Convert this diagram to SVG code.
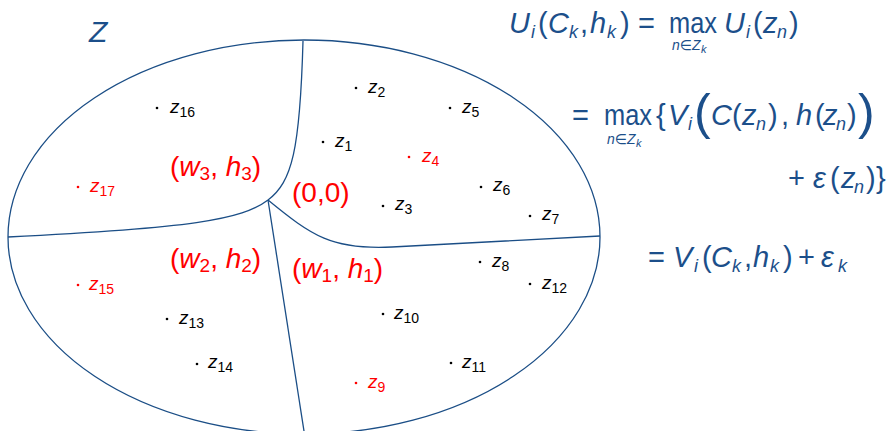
<svg xmlns="http://www.w3.org/2000/svg" width="893" height="431" viewBox="0 0 893 431">
<style>
.ln{fill:none;stroke:#1b4e86;stroke-width:1.3}
.m{font-family:"Liberation Sans","DejaVu Sans",sans-serif;fill:#1c4f8a;font-size:29px}
.i{font-style:italic}
.s{font-size:18px}
.ss{font-size:14px}
.pt{font-family:"Liberation Sans","DejaVu Sans",sans-serif;font-size:19px;font-style:italic;fill:#000}
.pt .sub{font-size:14px;font-style:normal}
.red{fill:#ff0000}
.lab{font-family:"Liberation Sans","DejaVu Sans",sans-serif;font-size:28px;fill:#ff0000}
.lab .sub{font-size:19px}
.dot{fill:#000}
.rdot{fill:#ff0000}
</style>
<rect width="893" height="431" fill="#fff"/>
<g id="regions">
<ellipse class="ln" cx="304" cy="237" rx="296" ry="197"/>
<path class="ln" d="M268,200 C292,182 300,150 303,41"/>
<path class="ln" d="M268,200 C242,220 190,228 8,237"/>
<path class="ln" d="M268,200 C312,236 332,250 392,247 L600,236"/>
<path class="ln" d="M268,200 L304,431"/>
</g>
<text id="Z" class="m i" x="89" y="42" style="font-size:30px">Z</text>
<g id="labels">
<text class="lab" x="170" y="176">(<tspan class="i">w</tspan><tspan class="sub" dy="4">3</tspan><tspan dy="-4">, </tspan><tspan class="i">h</tspan><tspan class="sub" dy="4">3</tspan><tspan dy="-4">)</tspan></text>
<text class="lab" x="292" y="202">(0,0)</text>
<text class="lab" x="170" y="268">(<tspan class="i">w</tspan><tspan class="sub" dy="4">2</tspan><tspan dy="-4">, </tspan><tspan class="i">h</tspan><tspan class="sub" dy="4">2</tspan><tspan dy="-4">)</tspan></text>
<text class="lab" x="292" y="278">(<tspan class="i">w</tspan><tspan class="sub" dy="4">1</tspan><tspan dy="-4">, </tspan><tspan class="i">h</tspan><tspan class="sub" dy="4">1</tspan><tspan dy="-4">)</tspan></text>
</g>
<g id="points">
<circle class="dot" cx="157" cy="108" r="1.3"/><text class="pt" x="170" y="113">z<tspan class="sub" dy="4">16</tspan></text>
<circle class="rdot" cx="78" cy="187" r="1.3"/><text class="pt red" x="90" y="192">z<tspan class="sub" dy="4">17</tspan></text>
<circle class="dot" cx="356" cy="88" r="1.3"/><text class="pt" x="368" y="93">z<tspan class="sub" dy="4">2</tspan></text>
<circle class="dot" cx="450" cy="108" r="1.3"/><text class="pt" x="462" y="113">z<tspan class="sub" dy="4">5</tspan></text>
<circle class="dot" cx="323" cy="142" r="1.3"/><text class="pt" x="335" y="147">z<tspan class="sub" dy="4">1</tspan></text>
<circle class="rdot" cx="409" cy="157" r="1.3"/><text class="pt red" x="422" y="162">z<tspan class="sub" dy="4">4</tspan></text>
<circle class="dot" cx="481" cy="187" r="1.3"/><text class="pt" x="493" y="191">z<tspan class="sub" dy="4">6</tspan></text>
<circle class="dot" cx="383" cy="206" r="1.3"/><text class="pt" x="395" y="210">z<tspan class="sub" dy="4">3</tspan></text>
<circle class="dot" cx="530" cy="216" r="1.3"/><text class="pt" x="542" y="220">z<tspan class="sub" dy="4">7</tspan></text>
<circle class="dot" cx="480" cy="262" r="1.3"/><text class="pt" x="492" y="267">z<tspan class="sub" dy="4">8</tspan></text>
<circle class="dot" cx="530" cy="284" r="1.3"/><text class="pt" x="542" y="289">z<tspan class="sub" dy="4">12</tspan></text>
<circle class="dot" cx="383" cy="314" r="1.3"/><text class="pt" x="394" y="319">z<tspan class="sub" dy="4">10</tspan></text>
<circle class="dot" cx="451" cy="363" r="1.3"/><text class="pt" x="462" y="368">z<tspan class="sub" dy="4">11</tspan></text>
<circle class="rdot" cx="356" cy="383" r="1.3"/><text class="pt red" x="368" y="388">z<tspan class="sub" dy="4">9</tspan></text>
<circle class="rdot" cx="78" cy="285" r="1.3"/><text class="pt red" x="89" y="290">z<tspan class="sub" dy="4">15</tspan></text>
<circle class="dot" cx="167" cy="319" r="1.3"/><text class="pt" x="179" y="324">z<tspan class="sub" dy="4">13</tspan></text>
<circle class="dot" cx="197" cy="364" r="1.3"/><text class="pt" x="208" y="368">z<tspan class="sub" dy="4">14</tspan></text>
</g>
<g id="formula">
<text class="m" y="33"><tspan class="i" x="509">U</tspan><tspan class="i s" x="531" y="38">i</tspan><tspan x="538" y="33">(</tspan><tspan class="i" x="548">C</tspan><tspan class="i s" x="569" y="38">k</tspan><tspan x="580" y="33">,</tspan><tspan class="i" x="590">h</tspan><tspan class="i s" x="607" y="38">k</tspan><tspan x="620" y="33">)</tspan><tspan x="638">=</tspan><tspan x="669" textLength="48" lengthAdjust="spacingAndGlyphs">max</tspan><tspan class="i" x="724">U</tspan><tspan class="i s" x="746" y="38">i</tspan><tspan x="753" y="33">(</tspan><tspan class="i" x="763">z</tspan><tspan class="i s" x="777" y="38">n</tspan><tspan x="789" y="33">)</tspan></text>
<text class="m" y="50"><tspan class="i ss" x="672">n∈Z</tspan><tspan class="i" style="font-size:11px" x="701" y="53">k</tspan></text>
<text class="m" y="125"><tspan x="572">=</tspan><tspan x="604" textLength="48" lengthAdjust="spacingAndGlyphs">max</tspan><tspan x="656">{</tspan><tspan class="i" x="668">V</tspan><tspan class="i s" x="688" y="130">i</tspan><tspan x="694" y="129" style="font-size:50px">(</tspan><tspan x="711" y="125" class="i">C</tspan><tspan x="732">(</tspan><tspan class="i" x="742">z</tspan><tspan class="i s" x="756" y="130">n</tspan><tspan x="768" y="125">)</tspan><tspan x="781">,</tspan><tspan class="i" x="796">h</tspan><tspan x="815">(</tspan><tspan class="i" x="823">z</tspan><tspan class="i s" x="836" y="130">n</tspan><tspan x="847" y="125">)</tspan><tspan x="858" y="129" style="font-size:50px">)</tspan></text>
<text class="m" y="144"><tspan class="i ss" x="607">n∈Z</tspan><tspan class="i" style="font-size:11px" x="636" y="147">k</tspan></text>
<text class="m" y="188"><tspan x="788">+</tspan><tspan class="i" x="813">ε</tspan><tspan x="830">(</tspan><tspan class="i" x="841">z</tspan><tspan class="i s" x="854" y="193">n</tspan><tspan x="866" y="188">)</tspan><tspan x="876">}</tspan></text>
<text class="m" y="267"><tspan x="648">=</tspan><tspan class="i" x="673">V</tspan><tspan class="i s" x="694" y="272">i</tspan><tspan x="702" y="267">(</tspan><tspan class="i" x="711">C</tspan><tspan class="i s" x="732" y="272">k</tspan><tspan x="744" y="267">,</tspan><tspan class="i" x="753">h</tspan><tspan class="i s" x="770" y="272">k</tspan><tspan x="783" y="267">)</tspan><tspan x="798">+</tspan><tspan class="i" x="821">ε</tspan><tspan class="i s" x="838" y="272">k</tspan></text>
</g>
</svg>
